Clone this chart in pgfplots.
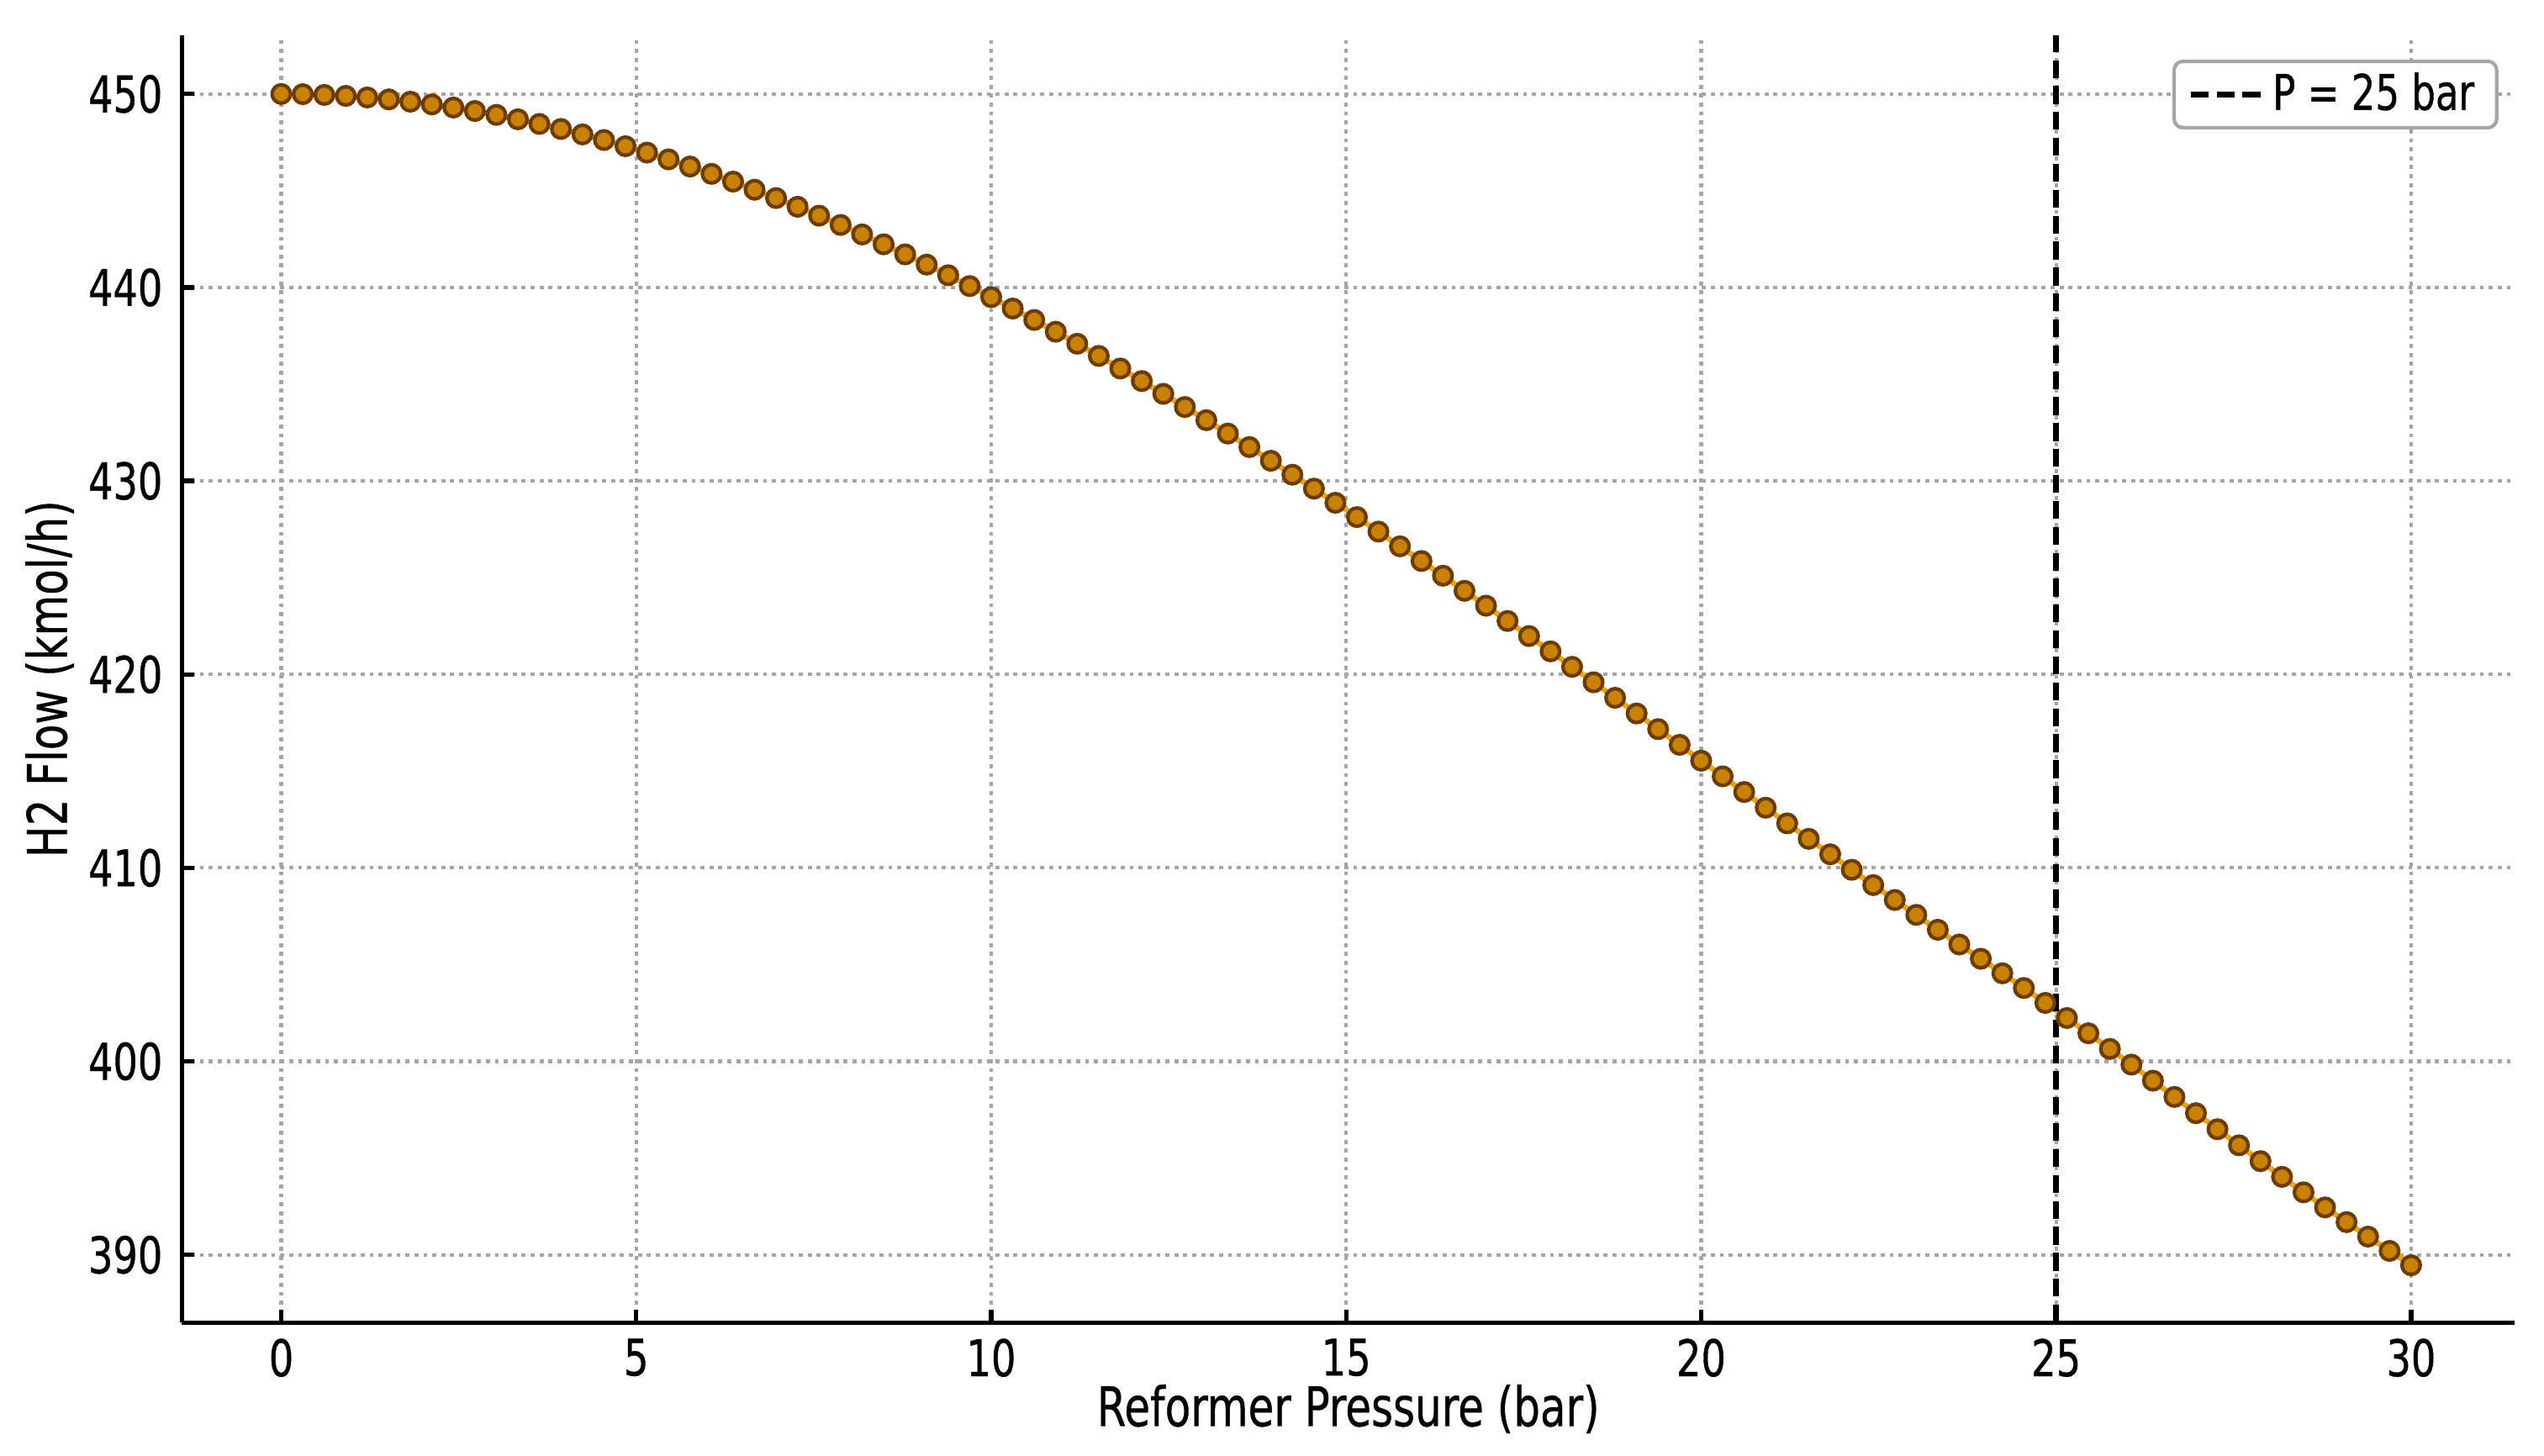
\documentclass[border=0pt]{standalone}
\usepackage{fontspec}
\setmainfont{DejaVu Sans}[FakeStretch=0.77, FakeBold=0.6]
\usepackage{pgfplots}
\usepackage{pgfplotstable}
\pgfplotsset{compat=1.18}
\definecolor{mkfill}{RGB}{200,130,0}
\definecolor{mkedge}{RGB}{110,60,0}
\definecolor{lnorange}{RGB}{240,165,0}
\definecolor{gridgray}{RGB}{165,165,165}
\pgfplotstableread{
x y
0.0000 450.00
0.3030 449.99
0.6061 449.95
0.9091 449.90
1.2121 449.82
1.5152 449.72
1.8182 449.60
2.1212 449.46
2.4242 449.30
2.7273 449.12
3.0303 448.92
3.3333 448.69
3.6364 448.45
3.9394 448.19
4.2424 447.91
4.5455 447.62
4.8485 447.30
5.1515 446.97
5.4545 446.62
5.7576 446.25
6.0606 445.87
6.3636 445.47
6.6667 445.05
6.9697 444.62
7.2727 444.17
7.5758 443.71
7.8788 443.23
8.1818 442.74
8.4848 442.23
8.7879 441.71
9.0909 441.18
9.3939 440.63
9.6970 440.07
10.0000 439.50
10.3030 438.91
10.6061 438.32
10.9091 437.71
11.2121 437.09
11.5152 436.46
11.8182 435.81
12.1212 435.16
12.4242 434.50
12.7273 433.82
13.0303 433.14
13.3333 432.45
13.6364 431.75
13.9394 431.04
14.2424 430.32
14.5455 429.60
14.8485 428.87
15.1515 428.13
15.4545 427.38
15.7576 426.62
16.0606 425.86
16.3636 425.10
16.6667 424.32
16.9697 423.55
17.2727 422.76
17.5758 421.98
17.8788 421.19
18.1818 420.39
18.4848 419.59
18.7879 418.79
19.0909 417.98
19.3939 417.17
19.6970 416.36
20.0000 415.54
20.3030 414.73
20.6061 413.92
20.9091 413.11
21.2121 412.30
21.5152 411.50
21.8182 410.70
22.1212 409.90
22.4242 409.11
22.7273 408.34
23.0303 407.57
23.3333 406.80
23.6364 406.04
23.9394 405.30
24.2424 404.55
24.5455 403.79
24.8485 403.02
25.1515 402.24
25.4545 401.45
25.7576 400.64
26.0606 399.83
26.3636 399.00
26.6667 398.16
26.9697 397.32
27.2727 396.49
27.5758 395.66
27.8788 394.84
28.1818 394.03
28.4848 393.23
28.7879 392.45
29.0909 391.69
29.3939 390.94
29.6970 390.20
30.0000 389.46
}\flowdata
\begin{document}
\begin{tikzpicture}
\begin{axis}[
  name=ax,
  scale only axis,
  width=18.34cm, height=10.12cm,
  xmin=-1.4, xmax=31.46,
  ymin=386.5, ymax=453.03,
  xtick={0,5,10,15,20,25,30},
  ytick={390,400,410,420,430,440,450},
  axis x line*=bottom, axis y line*=left,
  axis line style={-, line width=1pt, black},
  tick align=inside,
  major tick length=0.1cm,
  tick style={black, line width=1pt},
  grid=major,
  major grid style={gridgray, line width=0.8pt, dash pattern=on 0.9pt off 1.1pt},
  /pgf/number format/assume math mode=true,
  /pgf/number format/1000 sep={},
  tick label style={font=\fontsize{11.3}{13}\selectfont},
  x tick label style={inner sep=0pt, anchor=north, yshift=-0.12cm},
  y tick label style={inner sep=0pt, anchor=east, xshift=-0.145cm},
  xlabel={Reformer Pressure (bar)},
  ylabel={H2 Flow (kmol/h)},
  every axis x label/.style={at={(axis description cs:0.5,0)}, yshift=-0.68cm, anchor=center, font=\fontsize{12.2}{14}\selectfont},
  every axis y label/.style={at={(axis description cs:0,0.5)}, xshift=-1.04cm, rotate=90, anchor=center, font=\fontsize{12.2}{14}\selectfont},
  legend style={at={(1,1)}, anchor=north east, xshift=-0.128cm, yshift=-0.19cm,
    draw=gray!70, line width=0.8pt, rounded corners=2pt, fill=white,
    font=\fontsize{11}{12}\selectfont, inner xsep=3pt, inner ysep=0.5pt},
  legend image code/.code={\draw[#1] (0cm,0cm) -- (0.55cm,0cm);},
  clip=false,
]
\addplot[forget plot, lnorange, line width=1.2pt, mark=*, mark size=2.05pt,
  mark options={fill=mkfill, draw=mkedge, line width=0.8pt, solid}] table[x=x, y=y] {\flowdata};
\addplot[black, line width=1.4pt, dash pattern=on 4pt off 1.8pt] coordinates {(25,386.5) (25,453.03)};
\addlegendentry{P = 25 bar}
\end{axis}
\pgfresetboundingbox
\path ([shift={(-1.43cm,-1.044cm)}]ax.south west) rectangle ([shift={(0.23cm,0.278cm)}]ax.north east);
\end{tikzpicture}
\end{document}
